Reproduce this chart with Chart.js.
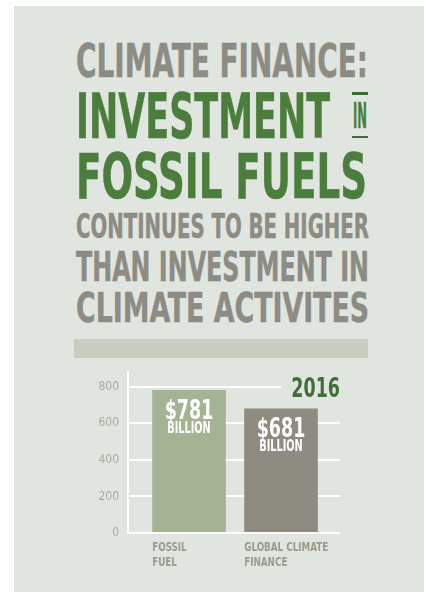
<!DOCTYPE html>
<html>
<head>
<meta charset="utf-8">
<script src="https://cdn.jsdelivr.net/npm/chart.js@4.4.1/dist/chart.umd.min.js"></script>
<style>
  html, body { margin: 0; padding: 0; background: #fff; }
  body { width: 424px; height: 592px; position: relative; overflow: hidden;
         font-family: 'DejaVu Sans Condensed', 'DejaVu Sans', sans-serif; }
  #panel { position: absolute; left: 14px; top: 6px; right: 0; bottom: 0; background: #e1e5df; }
  .t { position: absolute; left: 76px; white-space: nowrap; font-weight: bold; line-height: 1;
       transform-origin: 0 0; font-stretch: condensed; -webkit-text-stroke: 0.5px currentColor; }
  .gray { color: #8d8c84; }
  .green { color: #4b7e3d; }
  .rule { position: absolute; }
  #chart { position: absolute; left: 0; top: 0; }
</style>
</head>
<body>
<div id="panel"></div>

<!-- Titre -->
<div class="t gray" style="top:37.5px;font-size:46.6px" data-w="292">CLIMATE FINANCE:</div>
<div class="t green" style="top:84.6px;font-size:63px" data-w="254">INVESTMENT</div>
<div class="rule" style="left:352px;top:92px;width:16px;height:2.5px;background:#3d6a35"></div>
<div class="t green" style="left:353px;top:97.8px;font-size:35.7px" data-w="14">IN</div>
<div class="rule" style="left:352px;top:135.5px;width:16px;height:2.5px;background:#3d6a35"></div>
<div class="t green" style="top:144.6px;font-size:63px" data-w="291">FOSSIL FUELS</div>
<div class="t gray" style="top:211.1px;font-size:32.9px" data-w="293">CONTINUES TO BE HIGHER</div>
<div class="t gray" style="top:247.2px;font-size:41.2px" data-w="293">THAN INVESTMENT IN</div>
<div class="t gray" style="top:288.2px;font-size:41.2px" data-w="293">CLIMATE ACTIVITES</div>
<div class="rule" style="left:74px;top:339px;width:294px;height:19px;background:#c7cec1"></div>

<canvas id="chart" width="424" height="592"></canvas>

<script>
// Données du graphique
const categories = [['FOSSIL', 'FUEL'], ['GLOBAL CLIMATE', 'FINANCE']];
const values = [781, 681];
const yTicks = [0, 200, 400, 600, 800];
const yMax = 880;
const unitLabel = 'BILLION';
const yearLabel = '2016';
const barColors = ['#a4b394', '#8e8c80'];

const FONT = "'DejaVu Sans Condensed', 'DejaVu Sans', sans-serif";
const PANEL = '#e1e5df';

// Ajuste chaque ligne du titre à sa largeur cible
document.querySelectorAll('.t').forEach(el => {
  const w = el.getBoundingClientRect().width;
  el.style.transform = `scaleX(${el.dataset.w / w})`;
});

// Texte condensé sur le canvas
function condText(ctx, text, x, y, size, color, align, sx) {
  ctx.save();
  ctx.translate(x, y);
  ctx.scale(sx, 1);
  ctx.font = `bold ${size}px ${FONT}`;
  ctx.fillStyle = color;
  ctx.textAlign = align;
  ctx.textBaseline = 'alphabetic';
  ctx.fillText(text, 0, 0);
  ctx.restore();
}

const labelsPlugin = {
  id: 'infoLabels',
  afterDraw(chart) {
    const ctx = chart.ctx;
    const area = chart.chartArea;
    const bars = chart.getDatasetMeta(0).data;

    bars.forEach((bar, i) => {
      condText(ctx, '$' + values[i], bar.x, bar.y + 29, 27, '#ffffff', 'center', 0.72);
      condText(ctx, unitLabel, bar.x, bar.y + 43, 15, '#ffffff', 'center', 0.72);
      const left = bar.x - bar.width / 2;
      categories[i].forEach((line, j) => {
        condText(ctx, line, left, area.bottom + 18 + j * 15, 12.5, '#9a998f', 'left', 0.78);
      });
    });

    // Année posée sur la dernière ligne de grille
    const yPix = chart.scales.y.getPixelForValue(yTicks[yTicks.length - 1]);
    ctx.save();
    ctx.font = `bold 27px ${FONT}`;
    const w = ctx.measureText(yearLabel).width * 0.72;
    ctx.fillStyle = PANEL;
    ctx.fillRect(area.right - w - 10, yPix - 3, w + 14, 6);
    ctx.restore();
    condText(ctx, yearLabel, area.right, yPix + 10, 27, '#3f6e36', 'right', 0.72);
  }
};

new Chart(document.getElementById('chart'), {
  type: 'bar',
  data: {
    datasets: [{
      data: values.map((v, i) => ({ x: i, y: v })),
      backgroundColor: barColors,
      borderWidth: 0,
      categoryPercentage: 1,
      barPercentage: 0.8
    }]
  },
  options: {
    responsive: false,
    animation: false,
    layout: { padding: { left: 88, right: 84, top: 372, bottom: 59 } },
    plugins: {
      legend: { display: false },
      tooltip: { enabled: false }
    },
    scales: {
      x: {
        type: 'linear',
        display: false,
        offset: false,
        min: -0.663,
        max: 1.641,
        afterBuildTicks: s => { s.ticks = categories.map((c, i) => ({ value: i })); }
      },
      y: {
        min: 0,
        max: yMax,
        afterBuildTicks: s => { s.ticks = yTicks.map(v => ({ value: v })); },
        afterFit: s => { s.width = 40; },
        grid: { color: '#ffffff', lineWidth: 2, drawTicks: false },
        border: { color: '#ffffff', width: 2 },
        ticks: { color: '#abaaa1', padding: 9, font: { family: FONT, size: 12 } }
      }
    }
  },
  plugins: [labelsPlugin]
});
</script>
</body>
</html>
